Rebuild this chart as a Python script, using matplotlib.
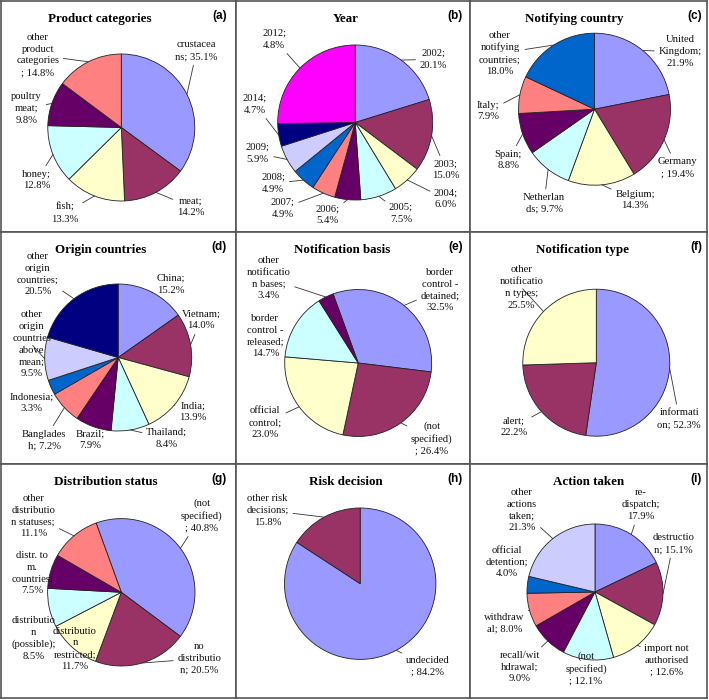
import numpy as np
import matplotlib.pyplot as plt

W, H = 709, 700

# Excel-style palette used by all nine pies
pal = ['#9999FF', '#993366', '#FFFFCC', '#CCFFFF', '#660066',
       '#FF8080', '#0066CC', '#CCCCFF', '#000080', '#FF00FF']

# (a) product categories
product_values = [35.1, 14.2, 13.3, 12.8, 9.8, 14.8]
product_labels = ['crustacea\nns; {}', 'meat;\n{}', 'fish;\n{}', 'honey;\n{}',
                  'poultry\nmeat;\n{}', 'other\nproduct\ncategories\n; {}']

# (b) year -- the 2012 slice is drawn much larger than its label says
year_values = [20.1, 15.0, 6.0, 7.5, 5.4, 4.9, 4.9, 5.9, 4.7, 25.1]
year_label_values = [20.1, 15.0, 6.0, 7.5, 5.4, 4.9, 4.9, 5.9, 4.7, 4.8]
year_labels = ['2002;\n{}', '2003;\n{}', '2004;\n{}', '2005;\n{}', '2006;\n{}',
               '2007;\n{}', '2008;\n{}', '2009;\n{}', '2014;\n{}', '2012;\n{}']
year_colors = ['#9999FF', '#993366', '#FFFFCC', '#CCFFFF', '#660066',
               '#FF8080', '#0066CC', '#CCCCFF', '#000080', '#FF00FF']

# (c) notifying country
notif_country_values = [21.9, 19.4, 14.3, 9.7, 8.8, 7.9, 18.0]
notif_country_labels = ['United\nKingdom;\n{}', 'Germany\n; {}', 'Belgium;\n{}',
                        'Netherlan\nds; {}', 'Spain;\n{}', 'Italy;\n{}',
                        'other\nnotifying\ncountries;\n{}']

# (d) origin countries
origin_values = [15.2, 14.0, 13.9, 8.4, 7.9, 7.2, 3.3, 9.5, 20.5]
origin_labels = ['China;\n{}', 'Vietnam;\n{}', 'India;\n{}', 'Thailand;\n{}',
                 'Brazil;\n{}', 'Banglades\nh; {}', 'Indonesia;\n{}',
                 'other\norigin\ncountries\nabove\nmean;\n{}',
                 'other\norigin\ncountries;\n{}']
origin_colors = ['#9999FF', '#993366', '#FFFFCC', '#CCFFFF', '#660066',
                 '#FF8080', '#0066CC', '#CCCCFF', '#000080']

# (e) notification basis
basis_values = [32.5, 26.4, 23.0, 14.7, 3.4]
basis_labels = ['border\ncontrol -\ndetained;\n{}', '(not\nspecified)\n; {}',
                'official\ncontrol;\n{}', 'border\ncontrol -\nreleased;\n{}',
                'other\nnotificatio\nn bases;\n{}']

# (f) notification type
type_values = [52.3, 22.2, 25.5]
type_labels = ['informati\non; {}', 'alert;\n{}', 'other\nnotificatio\nn types;\n{}']

# (g) distribution status
distr_values = [40.8, 20.5, 11.7, 8.5, 7.5, 11.1]
distr_labels = ['(not\nspecified)\n; {}', 'no\ndistributio\nn; {}',
                'distributio\nn\nrestricted;\n{}', 'distributio\nn\n(possible);\n{}',
                'distr. to\nm.\ncountries;\n{}', 'other\ndistributio\nn statuses;\n{}']

# (h) risk decision
risk_values = [84.2, 15.8]
risk_labels = ['undecided\n; {}', 'other risk\ndecisions;\n{}']

# (i) action taken
action_values = [17.9, 15.1, 12.6, 12.1, 9.0, 8.0, 4.0, 21.3]
action_labels = ['re-\ndispatch;\n{}', 'destructio\nn; {}', 'import not\nauthorised\n; {}',
                 '(not\nspecified)\n; {}', 'recall/wit\nhdrawal;\n{}', 'withdraw\nal; {}',
                 'official\ndetention;\n{}', 'other\nactions\ntaken;\n{}']
action_colors = ['#9999FF', '#993366', '#FFFFCC', '#CCFFFF', '#660066',
                 '#FF8080', '#0066CC', '#CCCCFF']

# layout in reference pixels (y measured from the top)
panels = [
    dict(title='Product categories', tag='(a)', values=product_values, shown=product_values,
         labels=product_labels, colors=pal, center=(121.3, 127.5), r=73.5, start=90, tx=100,
         pos=[(196.7, 50.7), (190.7, 206.7), (65, 213.3), (36.7, 180), (26.7, 108.3), (37.7, 55)],
         noline=[]),
    dict(title='Year', tag='(b)', values=year_values, shown=year_label_values,
         labels=year_labels, colors=year_colors, center=(355.2, 122.5), r=77.5, start=90, tx=346,
         pos=[(433.3, 59.3), (446, 170), (446, 199), (401, 213.3), (327.7, 215),
              (282.7, 208.3), (273.3, 183.3), (257.7, 153.3), (255, 104.3), (274.3, 39.3)],
         noline=[]),
    dict(title='Notifying country', tag='(c)', values=notif_country_values, shown=notif_country_values,
         labels=notif_country_labels, colors=pal, center=(594.5, 109.2), r=76, start=90, tx=574,
         pos=[(680, 51.7), (677.3, 167.7), (635, 200), (544, 203.3), (508.3, 160),
              (488.3, 111), (500, 53.3)],
         noline=[]),
    dict(title='Origin countries', tag='(d)', values=origin_values, shown=origin_values,
         labels=origin_labels, colors=origin_colors, center=(118.2, 357.5), r=73.5, start=90, tx=101,
         pos=[(170.7, 284.3), (201, 320), (192.7, 411.7), (166.7, 438.3), (90, 440),
              (44.3, 440), (31.7, 402.7), (31.7, 344.3), (37.7, 274.3)],
         noline=[4, 6]),
    dict(title='Notification basis', tag='(e)', values=basis_values, shown=basis_values,
         labels=basis_labels, colors=pal, center=(358.2, 363), r=73.5, start=110, tx=342,
         pos=[(440, 290), (431.7, 438.7), (265.3, 422.7), (265.3, 336), (268.7, 278.3)],
         noline=[3]),
    dict(title='Notification type', tag='(f)', values=type_values, shown=type_values,
         labels=type_labels, colors=pal, center=(596.3, 362.7), r=73.5, start=90, tx=583,
         pos=[(679.3, 418.7), (514, 426.7), (521.7, 287.7)],
         noline=[]),
    dict(title='Distribution status', tag='(g)', values=distr_values, shown=distr_values,
         labels=distr_labels, colors=pal, center=(121.3, 592.3), r=73.7, start=110, tx=106,
         pos=[(201.7, 515.3), (199.3, 658.7), (75, 648.7), (33.3, 638.7), (32.3, 573), (33.3, 516)],
         noline=[2, 3, 4]),
    dict(title='Risk decision', tag='(h)', values=risk_values, shown=risk_values,
         labels=risk_labels, colors=pal, center=(360.2, 583.7), r=75.7, start=90, tx=346,
         pos=[(427.7, 666), (267.7, 510.3)],
         noline=[]),
    dict(title='Action taken', tag='(i)', values=action_values, shown=action_values,
         labels=action_labels, colors=action_colors, center=(595, 592), r=68, start=90, tx=589,
         pos=[(641, 504.7), (673.3, 543.7), (666.7, 660.3), (586, 668.7), (520, 667),
              (504.3, 623), (507.3, 562), (521.7, 510.3)],
         noline=[3, 6]),
]

xs = [1, 236, 470, 707]
ys = [1, 232, 464, 698]
tag_pad = [9, 7, 5]

serif = 'Liberation Serif'
fig = plt.figure(figsize=(W / 100, H / 100), dpi=100)

for i, p in enumerate(panels):
    row, col = divmod(i, 3)
    x0, x1 = xs[col], xs[col + 1]
    y0, y1 = ys[row], ys[row + 1]
    ax = fig.add_axes([x0 / W, 1 - y1 / H, (x1 - x0) / W, (y1 - y0) / H])
    c = (p['center'][0] - x0, y1 - p['center'][1])
    wedges, _ = ax.pie(p['values'], colors=p['colors'], startangle=p['start'],
                       counterclock=False, radius=p['r'], center=c,
                       wedgeprops=dict(edgecolor='#222222', linewidth=0.6))
    ax.set_xlim(0, x1 - x0)
    ax.set_ylim(0, y1 - y0)
    ax.set_frame_on(True)
    for sp in ax.spines.values():
        sp.set_color('#555555')
        sp.set_linewidth(1.2)

    for k, (w, lab, v, (lx, ly)) in enumerate(zip(wedges, p['labels'], p['shown'], p['pos'])):
        txt = lab.format('%.1f%%' % v)
        ang = np.deg2rad((w.theta1 + w.theta2) / 2)
        edge = (c[0] + p['r'] * np.cos(ang), c[1] + p['r'] * np.sin(ang))
        arrow = None
        if k not in p['noline']:
            arrow = dict(arrowstyle='-', lw=0.6, color='#333333', shrinkA=1, shrinkB=0)
        ax.annotate(txt, xy=edge, xytext=(lx - x0, y1 - ly), ha='center', va='center',
                    fontsize=7.7, family=serif, linespacing=1.4, color='#111111',
                    arrowprops=arrow)

    ax.text(p['tx'] - x0, (y1 - y0) - 18, p['title'], ha='center', va='center',
            fontsize=9.4, fontweight='bold', family=serif)
    ax.text((x1 - x0) - tag_pad[col], (y1 - y0) - 15, p['tag'], ha='right', va='center',
            fontsize=8.5, fontweight='bold', family='Liberation Sans')

fig.savefig('out.png', dpi=100)
